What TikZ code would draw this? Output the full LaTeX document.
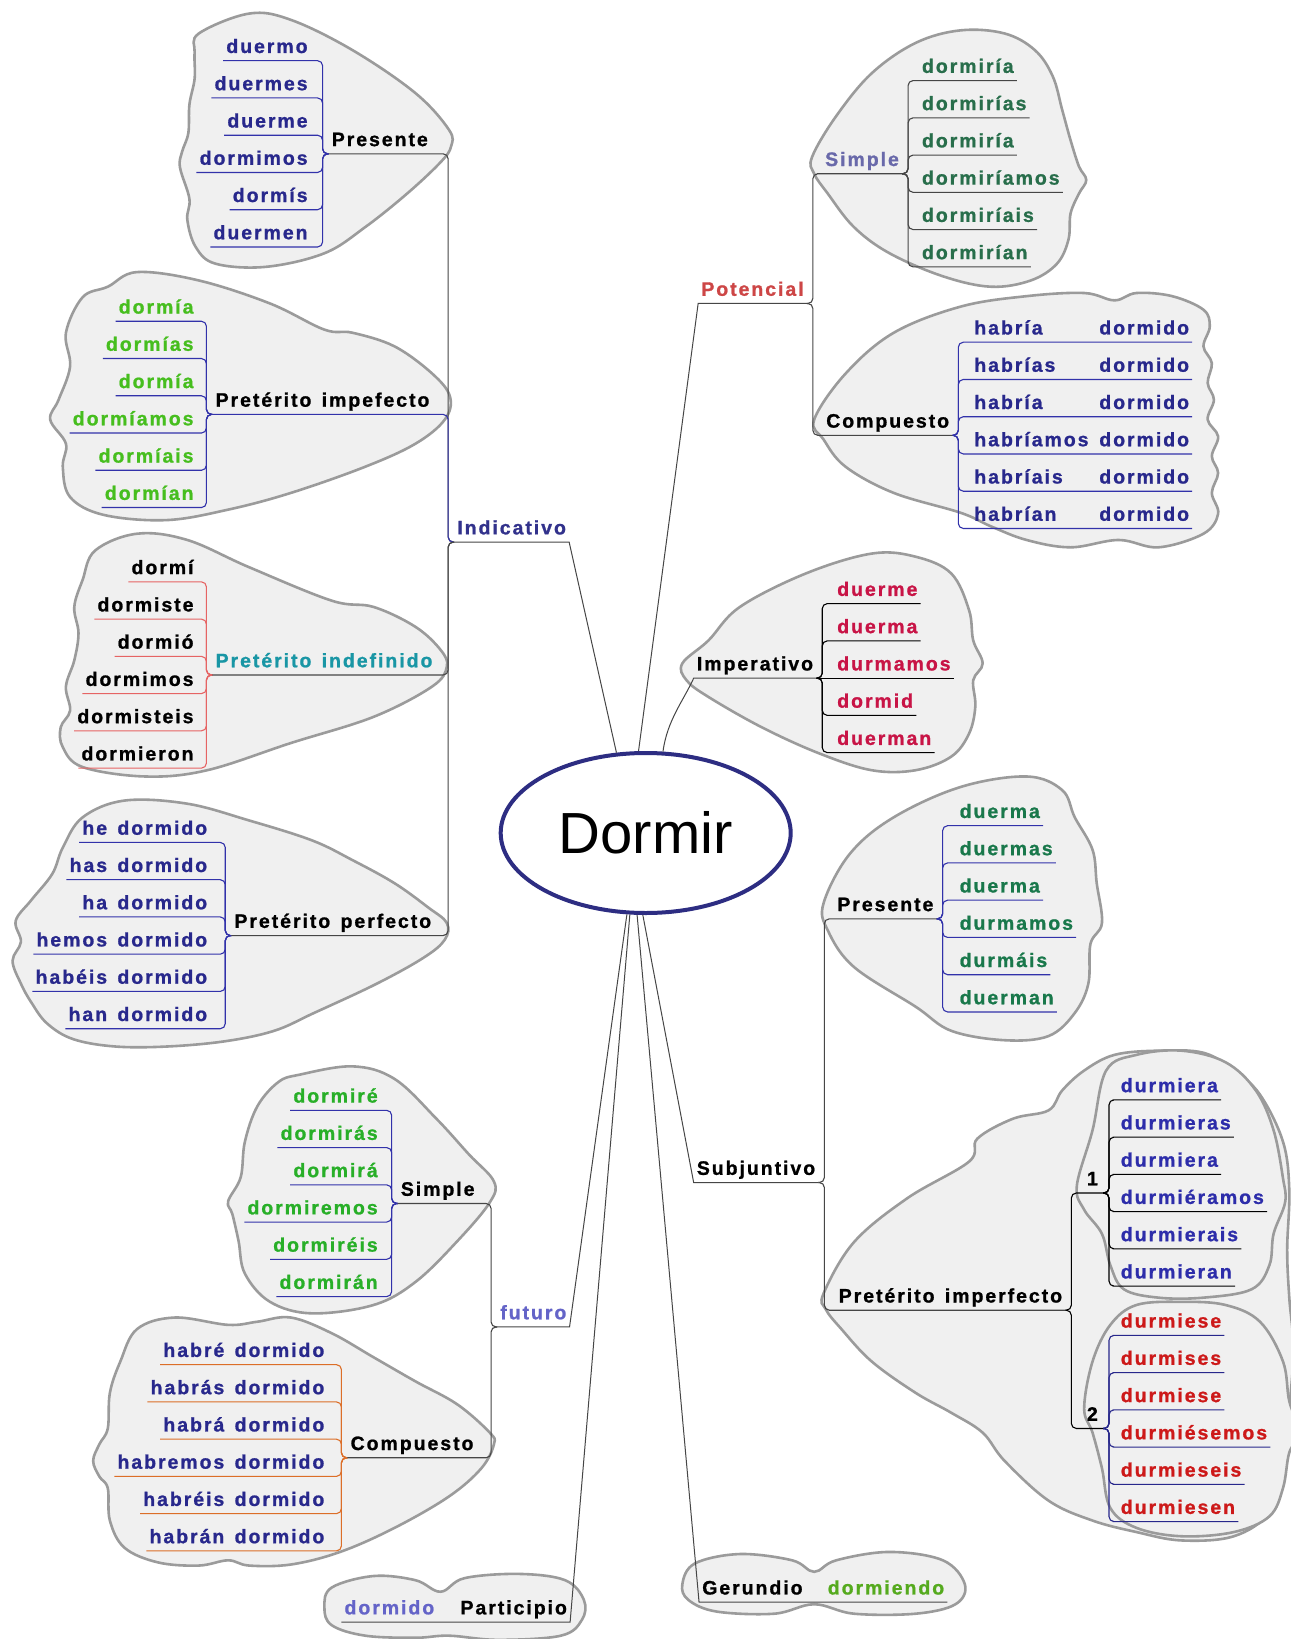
\documentclass[tikz,border=0pt]{standalone}
\usepackage{fontspec}
\setmainfont{Liberation Sans}
\newfontfamily\mapfont[LetterSpace=10,WordSpace=1.4,FakeBold=1]{Liberation Sans}
\usetikzlibrary{shapes.geometric}

\definecolor{navy}{RGB}{40,40,140}
\definecolor{indblue}{RGB}{50,50,140}
\definecolor{lime}{RGB}{70,190,30}
\definecolor{futgreen}{RGB}{40,175,40}
\definecolor{potgreen}{RGB}{40,110,75}
\definecolor{subgreen}{RGB}{25,120,75}
\definecolor{crimson}{RGB}{200,20,70}
\definecolor{redtwo}{RGB}{205,25,25}
\definecolor{blueone}{RGB}{45,45,170}
\definecolor{tealish}{RGB}{25,150,165}
\definecolor{potred}{RGB}{205,70,70}
\definecolor{lilac}{RGB}{105,105,170}
\definecolor{futblue}{RGB}{100,100,200}
\definecolor{gergreen}{RGB}{85,170,30}
\definecolor{ellblue}{RGB}{45,45,130}
\definecolor{linegrey}{RGB}{70,70,70}
\definecolor{navyline}{RGB}{50,50,170}
\definecolor{pinkline}{RGB}{230,100,100}
\definecolor{orangeline}{RGB}{220,110,40}
\definecolor{cloudfill}{RGB}{240,240,240}
\definecolor{cloudline}{RGB}{155,155,155}

\begin{document}
\begin{tikzpicture}[x=1.0465pt, y=-1.0465pt,
  leaf/.style={font=\mapfont\bfseries\fontsize{19.5}{22}\selectfont, inner xsep=3pt, inner ysep=0.5pt, text height=14.5pt, text depth=7pt},
  twig/.style={rounded corners=5pt, line width=1.1pt},
  branch/.style={line width=1pt, draw=linegrey},
  cloudy/.style={fill=cloudfill, draw=cloudline, line width=2.6pt}]
\fill[white] (0,0) rectangle (1233.6,1566.2);
\useasboundingbox (0,0) rectangle (1233.6,1566.2);

% clouds
\draw[cloudy] plot[smooth cycle, tension=0.6] coordinates {(190,32) (238,13) (278,19) (337,48) (397,89) (429,124) (431,140) (421,155) (389,185) (349,217) (310,242) (254,255) (206,252) (187,236) (179,210) (181,190) (172,160) (174,145) (180,127) (181,100) (186,75) (186,50)};
\draw[cloudy] plot[smooth cycle, tension=0.6] coordinates {(79,284) (103,274) (131,260) (190,268) (258,290) (310,315) (337,318) (377,331) (413,357) (430,379) (425,401) (397,424) (349,446) (278,471) (218,487) (159,497) (99,492) (67,475) (60,446) (63,424) (48,401) (56,382) (67,350) (63,318)};
\draw[cloudy] plot[smooth cycle, tension=0.6] coordinates {(91,526) (131,510) (179,516) (238,542) (317,574) (357,580) (397,599) (421,621) (427,637) (413,656) (357,685) (278,710) (198,736) (139,742) (79,733) (60,714) (58,695) (67,679) (63,656) (71,631) (75,605) (71,580) (79,554)};
\draw[cloudy] plot[smooth cycle, tension=0.6] coordinates {(79,781) (119,765) (179,768) (238,784) (298,803) (337,822) (377,844) (409,867) (427,882) (425,898) (405,915) (360,940) (300,968) (262,985) (215,995) (160,1000) (110,1000) (70,993) (45,978) (30,958) (20,940) (12,918) (20,900) (15,880) (30,860) (50,835) (60,810)};
\draw[cloudy] plot[smooth cycle, tension=0.6] coordinates {(286,1027) (337,1019) (377,1031) (417,1069) (448,1103) (472,1129) (468,1149) (437,1186) (397,1225) (357,1247) (298,1255) (258,1244) (234,1217) (228,1186) (222,1160) (218,1148) (230,1125) (234,1091) (246,1057) (266,1034)};
\draw[cloudy] plot[smooth cycle, tension=0.6] coordinates {(131,1270) (167,1259) (218,1266) (246,1263) (278,1259) (317,1274) (357,1297) (397,1320) (437,1342) (468,1369) (472,1380) (460,1403) (429,1430) (377,1460) (325,1483) (278,1495) (238,1496) (218,1491) (190,1496) (151,1493) (119,1479) (105,1453) (103,1422) (95,1411) (89,1396) (95,1380) (103,1365) (105,1331) (115,1301)};
\draw[cloudy] plot[smooth cycle, tension=0.6] coordinates {(310,1536) (317,1517) (357,1506) (397,1510) (421,1521) (444,1508) (496,1504) (540,1510) (558,1529) (556,1548) (536,1563) (476,1567) (429,1563) (397,1565) (349,1563) (317,1553)};
\draw[cloudy] plot[smooth cycle, tension=0.6] coordinates {(776,150) (799,111) (833,70) (875,41) (918,29) (960,32) (989,48) (1006,73) (1015,105) (1023,134) (1031,159) (1038,172) (1031,185) (1023,204) (1021,229) (1010,252) (985,268) (947,274) (901,264) (850,242) (816,217) (791,185) (778,166)};
\draw[cloudy] plot[smooth cycle, tension=0.6] coordinates {(778,401) (808,357) (854,318) (918,293) (981,283) (1036,280) (1065,287) (1086,280) (1120,283) (1150,296) (1156,312) (1150,331) (1158,347) (1154,366) (1160,382) (1154,401) (1164,417) (1158,436) (1164,452) (1158,471) (1164,491) (1150,510) (1107,523) (1069,516) (1023,523) (981,516) (947,503) (918,490) (854,471) (808,446) (787,420)};
\draw[cloudy] plot[smooth cycle, tension=0.6] coordinates {(652,634) (677,612) (707,580) (770,548) (833,529) (875,532) (909,548) (926,583) (930,612) (939,634) (930,650) (932,675) (926,701) (909,723) (875,736) (833,736) (783,720) (728,695) (677,666) (656,650)};
\draw[cloudy] plot[smooth cycle, tension=0.6] coordinates {(787,863) (812,816) (854,781) (918,752) (981,742) (1015,755) (1027,781) (1044,812) (1048,844) (1053,882) (1042,902) (1040,940) (1027,968) (1002,990) (960,994) (909,985) (875,962) (816,924) (791,889)};
\draw[cloudy] plot[smooth cycle, tension=0.6] coordinates {(787,1236) (816,1187) (867,1145) (926,1110) (934,1088) (968,1069) (1002,1061) (1015,1042) (1036,1023) (1065,1008) (1107,1004) (1150,1006) (1179,1023) (1204,1046) (1226,1091) (1232,1137) (1230,1194) (1232,1240) (1236,1289) (1232,1346) (1226,1403) (1213,1445) (1179,1468) (1129,1472) (1086,1464) (1044,1453) (1002,1434) (960,1396) (939,1369) (909,1350) (875,1331) (833,1301) (804,1270) (789,1251)};
\draw[cloudy] plot[smooth cycle, tension=0.6] coordinates {(1029,1133) (1044,1080) (1057,1023) (1086,1008) (1129,1004) (1171,1015) (1200,1042) (1217,1080) (1226,1126) (1228,1149) (1217,1179) (1213,1209) (1196,1232) (1150,1240) (1107,1240) (1074,1232) (1061,1209) (1053,1179) (1036,1156)};
\draw[cloudy] plot[smooth cycle, tension=0.6] coordinates {(1036,1346) (1044,1301) (1061,1266) (1086,1247) (1129,1244) (1171,1247) (1204,1263) (1226,1301) (1232,1339) (1242,1369) (1232,1388) (1226,1422) (1213,1449) (1179,1464) (1129,1468) (1086,1460) (1061,1441) (1053,1403) (1044,1369)};
\draw[cloudy] plot[smooth cycle, tension=0.6] coordinates {(652,1514) (664,1494) (707,1485) (757,1491) (778,1502) (799,1491) (850,1483) (901,1491) (922,1514) (913,1533) (875,1542) (816,1542) (778,1533) (740,1542) (685,1540) (658,1529)};

% centre
\node[ellipse, draw=ellblue, line width=4pt, minimum width=290pt, minimum height=160pt, font=\fontsize{58}{60}\selectfont] (dormir) at (617,796) {Dormir};

% Indicativo
\node[leaf, text=indblue, anchor=south west] (indic) at (434,518) {Indicativo};
\node[leaf, anchor=south west] (ipres) at (314,147) {Presente};
\node[leaf, anchor=south west] (iimp) at (203,396) {Pretérito impefecto};
\node[leaf, text=tealish, anchor=south west] (iind) at (203,645) {Pretérito indefinido};
\node[leaf, anchor=south west] (iper) at (221,894) {Pretérito perfecto};
\foreach \w [count=\i] in {duermo,duermes,duerme,dormimos,dormís,duermen}
  \node[leaf, text=navy, anchor=south east] (ipres\i) at (297,{147+35.6*(\i-3.5)}) {\w};
\foreach \w [count=\i] in {dormía,dormías,dormía,dormíamos,dormíais,dormían}
  \node[leaf, text=lime, anchor=south east] (iimp\i) at (188,{396+35.6*(\i-3.5)}) {\w};
\foreach \w [count=\i] in {dormí,dormiste,dormió,dormimos,dormisteis,dormieron}
  \node[leaf, anchor=south east] (iind\i) at (188,{645+35.6*(\i-3.5)}) {\w};
\foreach \w [count=\i] in {he dormido,has dormido,ha dormido,hemos dormido,habéis dormido,han dormido}
  \node[leaf, text=navy, anchor=south east] (iper\i) at (201,{894+35.6*(\i-3.5)}) {\w};
\foreach \p/\col in {ipres/navyline,iimp/navyline,iind/pinkline,iper/navyline}
  \foreach \i in {1,...,6}
    \draw[twig, draw=\col] (\p\i.south west) -- (\p\i.south east) -| ([xshift=-6pt]\p.south west) -- (\p.south west);
\foreach \p/\col in {ipres/linegrey,iimp/navyline,iind/linegrey,iper/linegrey}
  \draw[twig, draw=\col] (\p.south west) -- (\p.south east) -| ([xshift=-6pt]indic.south west) -- (indic.south west);
\draw[branch] (indic.south west) -- (indic.south east) -- (dormir.110);

% futuro
\node[leaf, text=futblue, anchor=south west] (futuro) at (475,1268) {futuro};
\node[leaf, anchor=south west] (fsim) at (380,1150) {Simple};
\node[leaf, anchor=south west] (fcom) at (332,1393) {Compuesto};
\foreach \w [count=\i] in {dormiré,dormirás,dormirá,dormiremos,dormiréis,dormirán}
  \node[leaf, text=futgreen, anchor=south east] (fsim\i) at (364,{1150+35.6*(\i-3.5)}) {\w};
\foreach \w [count=\i] in {habré dormido,habrás dormido,habrá dormido,habremos dormido,habréis dormido,habrán dormido}
  \node[leaf, text=navy, anchor=south east] (fcom\i) at (313,{1393+35.6*(\i-3.5)}) {\w};
\foreach \p/\col in {fsim/navyline,fcom/orangeline}
  \foreach \i in {1,...,6}
    \draw[twig, draw=\col] (\p\i.south west) -- (\p\i.south east) -| ([xshift=-6pt]\p.south west) -- (\p.south west);
\foreach \p in {fsim,fcom}
  \draw[twig, draw=linegrey] (\p.south west) -- (\p.south east) -| ([xshift=-6pt]futuro.south west) -- (futuro.south west);
\draw[branch] (futuro.south west) -- (futuro.south east) -- (dormir.257);

% Participio
\node[leaf, anchor=south west] (partic) at (437,1550) {Participio};
\node[leaf, text=futblue, anchor=south east] (pdorm) at (418,1550) {dormido};
\draw[branch] (pdorm.south west) -- (pdorm.south east) -- (partic.south west) -- (partic.south east) -- (dormir.259);

% Potencial
\node[leaf, text=potred, anchor=south east] (potenc) at (771,290) {Potencial};
\node[leaf, text=lilac, anchor=south east] (psim) at (862,166) {Simple};
\node[leaf, anchor=south east] (pcom) at (910,416) {Compuesto};
\foreach \w [count=\i] in {dormiría,dormirías,dormiría,dormiríamos,dormiríais,dormirían}
  \node[leaf, text=potgreen, anchor=south west] (psim\i) at (878,{166+35.6*(\i-3.5)}) {\w};
\foreach \w [count=\i] in {habría,habrías,habría,habríamos,habríais,habrían}
  \node[leaf, text=navy, anchor=south west] (pcom\i) at (928,{416+35.6*(\i-3.5)}) {\makebox[125pt][l]{\w}dormido};
\foreach \p/\col in {psim/linegrey,pcom/navyline}
  \foreach \i in {1,...,6}
    \draw[twig, draw=\col] (\p\i.south east) -- (\p\i.south west) -| ([xshift=6pt]\p.south east) -- (\p.south east);
\foreach \p in {psim,pcom}
  \draw[twig, draw=linegrey] (\p.south east) -- (\p.south west) -| ([xshift=6pt]potenc.south east) -- (potenc.south east);
\draw[branch] (potenc.south east) -- (potenc.south west) -- (dormir.95);

% Imperativo
\node[leaf, anchor=south east] (imper) at (780,648) {Imperativo};
\foreach \w [count=\i] in {duerme,duerma,durmamos,dormid,duerman}
  \node[leaf, text=crimson, anchor=south west] (imper\i) at (797,{648+35.6*(\i-3)}) {\w};
\foreach \i in {1,2,4,5}
  \draw[twig, draw=black] (imper\i.south east) -- (imper\i.south west) -| ([xshift=6pt]imper.south east) -- (imper.south east);
\draw[twig, draw=black] (imper3.south east) -- (imper3.south west) -- (imper.south east);
\draw[branch] (imper.south east) -- (imper.south west) .. controls +(-10,22) and +(4,-30) .. (dormir.78);

% Subjuntivo
\node[leaf, anchor=south east] (subj) at (782,1130) {Subjuntivo};
\node[leaf, anchor=south east] (spres) at (895,878) {Presente};
\node[leaf, anchor=south east] (simp) at (1018,1252) {Pretérito imperfecto};
\node[leaf, anchor=south east, inner xsep=5pt] (sone) at (1054,1140) {1};
\node[leaf, anchor=south east, inner xsep=5pt] (stwo) at (1054,1365) {2};
\foreach \w [count=\i] in {duerma,duermas,duerma,durmamos,durmáis,duerman}
  \node[leaf, text=subgreen, anchor=south west] (spres\i) at (914,{878+35.6*(\i-3.5)}) {\w};
\foreach \w [count=\i] in {durmiera,durmieras,durmiera,durmiéramos,durmierais,durmieran}
  \node[leaf, text=blueone, anchor=south west] (sone\i) at (1068,{1140+35.6*(\i-3.5)}) {\w};
\foreach \w [count=\i] in {durmiese,durmises,durmiese,durmiésemos,durmieseis,durmiesen}
  \node[leaf, text=redtwo, anchor=south west] (stwo\i) at (1068,{1365+35.6*(\i-3.5)}) {\w};
\foreach \p/\col in {spres/navyline,sone/black,stwo/navy}
  \foreach \i in {1,...,6}
    \draw[twig, draw=\col] (\p\i.south east) -- (\p\i.south west) -| ([xshift=6pt]\p.south east) -- (\p.south east);
\foreach \p in {sone,stwo}
  \draw[twig, draw=black] (\p.south east) -- (\p.south west) -| ([xshift=6pt]simp.south east) -- (simp.south east);
\foreach \p in {spres,simp}
  \draw[twig, draw=linegrey] (\p.south east) -- (\p.south west) -| ([xshift=6pt]subj.south east) -- (subj.south east);
\draw[branch] (subj.south east) -- (subj.south west) -- (dormir.268);

% Gerundio
\node[leaf, anchor=south west] (gerund) at (668,1531) {Gerundio};
\node[leaf, text=gergreen, anchor=south west] (gdorm) at (788,1531) {dormiendo};
\draw[branch] (gdorm.south east) -- (gdorm.south west) -- (gerund.south east) -- (gerund.south west) -- (dormir.264);
\end{tikzpicture}
\end{document}
